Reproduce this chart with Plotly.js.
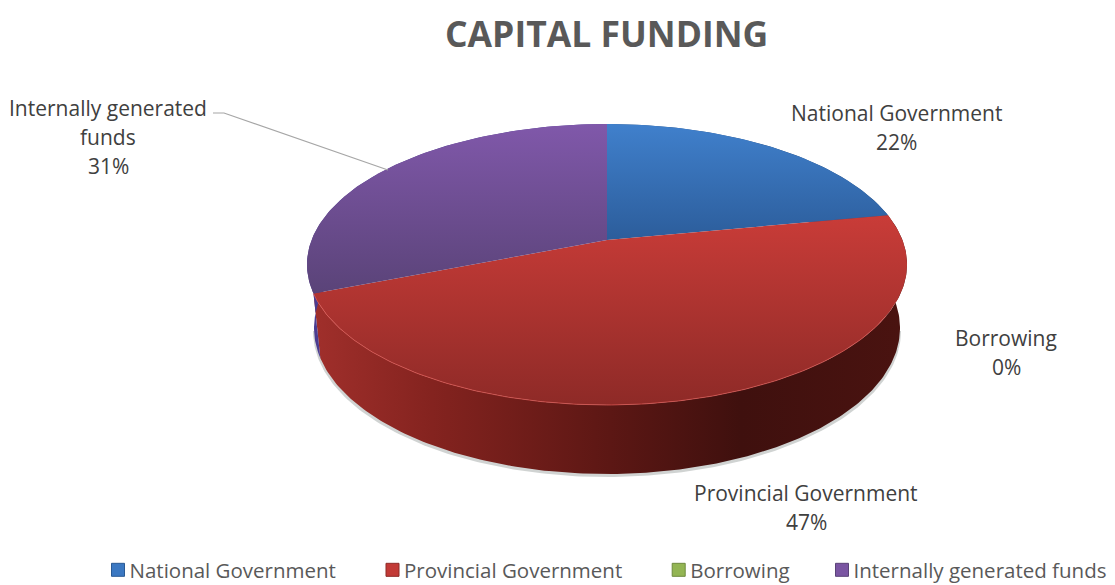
<!DOCTYPE html>
<html><head><meta charset="utf-8">
<script src="https://cdn.plot.ly/plotly-3.0.1.min.js"></script>
<style>html,body{margin:0;padding:0;background:#fff}#c{width:1115px;height:585px}</style>
</head><body><div id="c"></div>
<script>
// ---- data ----
const categories = ['National Government','Provincial Government','Borrowing','Internally generated funds'];
const shares = [22,47,0,31];
const labelLines = [['National Government'],['Provincial Government'],['Borrowing'],['Internally generated','funds']];
const chartTitle = 'CAPITAL FUNDING';

// ---- styles ----
const topGrad = [['#4080cc','#2c5d9b'],['#c93c38','#8e2a27'],['#9bbb59','#7a9444'],['#8058aa','#5a4378']];
const sideGrad = [
  [[0,'#244c80'],[1,'#244c80']],
  [[0,'#a02f2b'],[0.2,'#84231f'],[0.5,'#5c1714'],[0.72,'#3f100e'],[1,'#4a1310']],
  [[0,'#6b8239'],[1,'#6b8239']],
  [[0,'#4b3c90'],[1,'#4b3c90']]
];
const legendColor = ['#3b78c2','#c23a36','#93b553','#7a55a2'];
const legendEdge = ['#2a5a94','#8e2a27','#6f8a3e','#5a4378'];
const legendTextStart = [130,404.5,690.7,854];
const labelPos = [[896,113],[806,493],[1006,338],[108,108]];
const labelLineGap = 29;
const font = '"Open Sans", sans-serif';

// ---- 3-D pie geometry (in pixel-like axis units) ----
const cx=607, upper={y:264.5,rx:300,ry:140.5}, low={y:328,rx:293,ry:146};
const persp=24.5/140.5;                 // apex shift caused by perspective
function screenAngle(theta){            // true angle -> angle on the drawn ellipse
  const c=Math.cos(theta), t=Math.acos((c+persp)/(1+persp*c));
  return (theta%(2*Math.PI))<=Math.PI ? t : 2*Math.PI-t;
}
const pt=(e,t)=>[cx+e.rx*Math.sin(t), e.y-e.ry*Math.cos(t)];
function arc(e,t0,t1){const n=Math.max(2,Math.ceil(Math.abs(t1-t0)*60)),a=[];
  for(let i=0;i<=n;i++)a.push(pt(e,t0+(t1-t0)*i/n));return a;}

const total=shares.reduce((a,b)=>a+b,0);
let cum=0; const spans=shares.map(v=>{
  const a=cum/total*2*Math.PI; cum+=v; const b=cum/total*2*Math.PI;
  return [a===0?0:screenAngle(a), b>=2*Math.PI-1e-9?2*Math.PI:screenAngle(b)];
});

const traces=[];
// soft shadow under the body
{const a=arc({y:low.y+3,rx:low.rx+1,ry:low.ry},Math.PI/2,1.5*Math.PI);
 traces.push({type:'scatter',mode:'lines',x:a.map(p=>p[0]),y:a.map(p=>p[1]),fill:'toself',
  fillcolor:'rgba(120,130,125,0.35)',line:{width:0},hoverinfo:'skip',showlegend:false});}
// side walls
spans.forEach((s,i)=>{ if(s[1]<=s[0])return;
  const p=arc(upper,s[0],s[1]).concat(arc(low,s[1],s[0]));
  traces.push({type:'scatter',mode:'lines',name:categories[i],x:p.map(q=>q[0]),y:p.map(q=>q[1]),
   fill:'toself',fillgradient:{type:'horizontal',colorscale:sideGrad[i]},line:{width:0},hoverinfo:'skip',showlegend:false});
});
// top faces
spans.forEach((s,i)=>{ if(s[1]<=s[0])return;
  const p=[[cx,upper.y-upper.ry*persp]].concat(arc(upper,s[0],s[1]));
  traces.push({type:'scatter',mode:'lines',name:categories[i],x:p.map(q=>q[0]),y:p.map(q=>q[1]),
   fill:'toself',fillgradient:{type:'vertical',colorscale:[[0,topGrad[i][1]],[1,topGrad[i][0]]]},
   line:{width:0},hoverinfo:'skip',showlegend:false});
});
// light rim along the front edge of the largest slice
{const a=arc(upper,Math.PI*0.62,spans[1][1]);
 traces.push({type:'scatter',mode:'lines',x:a.map(p=>p[0]),y:a.map(p=>p[1]),
  line:{width:1,color:'rgba(225,90,85,0.7)'},hoverinfo:'skip',showlegend:false});}
// leader line
traces.push({type:'scatter',mode:'lines',x:[213,224,388],y:[113,113,170],line:{width:1.2,color:'#a6a6a6'},hoverinfo:'skip',showlegend:false});
// legend entries
const legendLayout={};
categories.forEach((c,i)=>{
  const key=i===0?'legend':'legend'+(i+1);
  traces.push({type:'scatter',mode:'markers',name:c,x:[null],y:[null],legend:key,
    marker:{symbol:'square',size:13,color:legendColor[i],line:{width:1,color:legendEdge[i]}}});
  legendLayout[key]={x:(legendTextStart[i]-40.5)/1115,xanchor:'left',y:1-570/585,yanchor:'middle',orientation:'h',itemwidth:30,
    font:{family:font,size:20.5,color:'#595959'},bgcolor:'rgba(0,0,0,0)',borderwidth:0,
    itemclick:false,itemdoubleclick:false};
});
const annotations=[];
categories.forEach((c,i)=>{
  labelLines[i].concat([shares[i]+'%']).forEach((line,k)=>{
    annotations.push({x:labelPos[i][0],y:labelPos[i][1]+k*labelLineGap,xref:'x',yref:'y',showarrow:false,
      text:line,xanchor:'center',yanchor:'middle',font:{family:font,size:21,color:'#404040'}});
  });
});
annotations.push({x:606,y:33,xref:'x',yref:'y',showarrow:false,text:'<b>'+chartTitle+'</b>',xanchor:'center',yanchor:'middle',
  font:{family:font,size:35.5,color:'#595959'}});
const hidden={visible:false,fixedrange:true};
Plotly.newPlot('c',traces,Object.assign({
  width:1115,height:585,margin:{l:0,r:0,t:0,b:0,autoexpand:false},paper_bgcolor:'#fff',plot_bgcolor:'#fff',
  xaxis:Object.assign({range:[0,1115]},hidden),
  yaxis:Object.assign({range:[585,0]},hidden),
  annotations:annotations
},legendLayout),{displayModeBar:false}).then(()=>{
  // the legend swatch sits closer to its text than itemwidth's minimum allows
  document.querySelectorAll('.legendpoints').forEach(g=>g.setAttribute('transform','translate(8.5,0)'));
});
</script></body></html>
